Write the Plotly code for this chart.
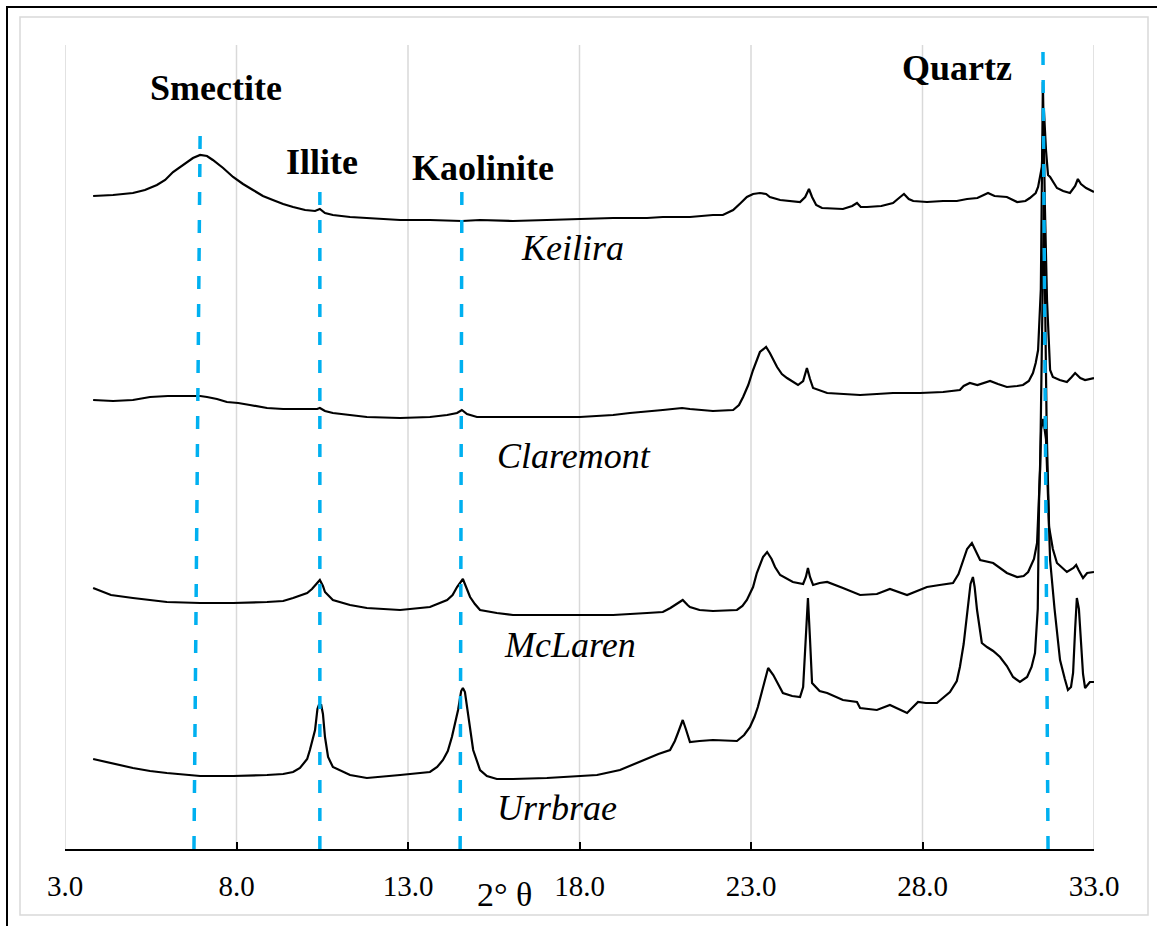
import plotly.graph_objects as go

# ---------------- data (2-theta in degrees, intensity in arbitrary units incl. stacking offset) -------------
keilira_2theta = [3.82, 4.40, 4.98, 5.33, 5.68, 5.92, 6.15, 6.35, 6.56, 6.73, 6.94, 7.14, 7.31, 7.61, 7.90,
                  8.19, 8.48, 8.77, 9.06, 9.36, 9.65, 10.00, 10.29, 10.43, 10.58, 10.81, 11.31, 11.80,
                  12.77, 13.64, 14.57, 15.10, 16.06, 17.05, 18.01, 18.98, 19.97, 20.43, 21.22, 21.89,
                  22.18, 22.48, 22.70, 22.88, 23.06, 23.26, 23.44, 23.55, 23.85, 24.22, 24.43, 24.58,
                  24.69, 24.78, 24.90, 25.07, 25.68, 25.95, 26.09, 26.20, 26.38, 26.80, 27.14, 27.35,
                  27.46, 27.60, 27.73, 28.13, 28.60, 29.00, 29.30, 29.60, 29.91, 30.10, 30.46, 30.76,
                  31.00, 31.13, 31.30, 31.37, 31.48, 31.54, 31.60, 31.66, 31.72, 31.92, 32.10, 32.30,
                  32.45, 32.53, 32.62, 32.77, 33.00]
keilira_int = [653, 654, 656, 659, 664, 669, 677, 682, 687, 691, 694, 693, 689, 681, 672,
               665, 659, 653, 649, 645, 642, 639, 638, 640, 636, 634, 632, 631,
               629, 629, 628, 629, 628, 629, 630, 631, 631, 632, 632, 634,
               634, 639, 646, 652, 655, 656, 655, 652, 649, 648, 647, 652,
               660, 652, 644, 641, 640, 643, 646, 642, 642, 643, 646, 652,
               655, 650, 648, 647, 648, 648, 650, 651, 656, 653, 652, 647,
               648, 651, 656, 662, 682, 739, 699, 674, 672, 661, 658, 656,
               663, 670, 665, 661, 657]

claremont_2theta = [3.82, 4.40, 4.98, 5.48, 6.00, 6.44, 6.94, 7.14, 7.43, 7.72, 8.05, 8.39, 8.89, 9.36,
                    9.85, 10.35, 10.43, 10.58, 10.81, 11.31, 11.80, 12.77, 13.64, 14.14, 14.43, 14.57,
                    14.72, 15.01, 16.06, 17.05, 18.01, 18.98, 19.47, 20.43, 20.99, 21.22, 21.89, 22.48,
                    22.65, 22.77, 22.92, 23.06, 23.17, 23.26, 23.44, 23.55, 23.76, 23.90, 24.05, 24.37,
                    24.52, 24.63, 24.72, 24.81, 25.22, 25.68, 26.18, 26.67, 27.14, 27.55, 27.93, 28.60,
                    29.09, 29.20, 29.38, 29.60, 29.97, 30.20, 30.46, 30.76, 30.93, 31.10, 31.22, 31.30,
                    31.37, 31.45, 31.51, 31.57, 31.63, 31.72, 31.80, 32.00, 32.21, 32.35, 32.45, 32.60,
                    32.74, 33.00]
claremont_int = [449, 448, 449, 452, 453, 453, 453, 452, 450, 447, 446, 444, 441, 440,
                 440, 440, 441, 438, 436, 434, 432, 431, 432, 434, 436, 439,
                 435, 432, 432, 432, 432, 434, 436, 439, 441, 440, 438, 439,
                 444, 452, 464, 479, 490, 497, 502, 496, 482, 475, 471, 464,
                 468, 481, 470, 461, 456, 455, 454, 455, 456, 456, 456, 457,
                 459, 463, 466, 464, 468, 465, 462, 463, 464, 468, 476, 486,
                 499, 560, 767, 640, 549, 479, 472, 469, 467, 472, 476, 471,
                 469, 471]

mclaren_2theta = [3.82, 4.10, 4.34, 4.98, 5.48, 5.97, 6.94, 7.90, 8.89, 9.36, 9.65, 10.06, 10.20, 10.29,
                  10.43, 10.52, 10.58, 10.81, 11.31, 11.80, 12.77, 13.64, 14.14, 14.30, 14.43, 14.60,
                  14.70, 14.81, 14.95, 15.10, 15.59, 16.06, 17.05, 18.01, 18.98, 19.97, 20.43, 20.65,
                  20.78, 21.01, 21.15, 21.22, 21.50, 21.89, 22.59, 22.75, 22.88, 23.06, 23.17, 23.35,
                  23.47, 23.60, 23.70, 23.85, 24.22, 24.52, 24.60, 24.66, 24.72, 24.81, 25.00, 25.22,
                  25.68, 26.18, 26.67, 27.05, 27.55, 28.13, 28.50, 28.89, 29.05, 29.18, 29.30, 29.44,
                  29.55, 29.68, 30.06, 30.30, 30.46, 30.76, 30.95, 31.08, 31.25, 31.34, 31.43, 31.54,
                  31.62, 31.69, 31.80, 31.92, 32.21, 32.40, 32.48, 32.55, 32.68, 32.80, 33.00]
mclaren_int = [261, 257, 254, 251, 249, 247, 246, 246, 247, 248, 251, 256, 260, 264,
               269, 263, 257, 249, 244, 241, 239, 242, 249, 254, 262, 270,
               262, 252, 245, 239, 236, 234, 234, 234, 234, 236, 237, 241,
               244, 249, 244, 242, 239, 238, 239, 243, 249, 262, 276, 292,
               297, 290, 282, 274, 267, 265, 272, 281, 272, 264, 266, 267,
               261, 254, 255, 260, 254, 262, 264, 266, 275, 289, 300, 306,
               298, 289, 286, 280, 276, 272, 273, 277, 290, 306, 380, 650,
               420, 322, 300, 286, 277, 281, 284, 279, 271, 276, 277]

urrbrae_2theta = [3.82, 4.34, 4.98, 5.48, 5.97, 6.94, 7.90, 8.89, 9.36, 9.65, 9.85, 10.06, 10.14, 10.29,
                  10.36, 10.40, 10.47, 10.52, 10.58, 10.67, 10.81, 11.31, 11.80, 12.77, 13.64, 13.85,
                  14.02, 14.16, 14.28, 14.40, 14.46, 14.55, 14.60, 14.66, 14.72, 14.81, 14.90, 15.10,
                  15.30, 15.59, 16.06, 17.05, 18.01, 18.51, 19.18, 19.60, 19.97, 20.30, 20.64, 20.78,
                  20.87, 21.01, 21.10, 21.22, 21.50, 21.89, 22.59, 22.80, 22.97, 23.10, 23.20, 23.35,
                  23.50, 23.65, 23.85, 23.93, 24.20, 24.43, 24.52, 24.58, 24.66, 24.72, 24.78, 25.00,
                  25.22, 25.68, 26.09, 26.18, 26.40, 26.67, 27.05, 27.30, 27.55, 27.87, 28.10, 28.42,
                  28.80, 29.00, 29.09, 29.20, 29.30, 29.40, 29.47, 29.52, 29.59, 29.66, 29.73, 29.88,
                  30.06, 30.26, 30.46, 30.64, 30.84, 31.05, 31.18, 31.28, 31.36, 31.40, 31.46, 31.52,
                  31.60, 31.66, 31.72, 31.85, 32.01, 32.15, 32.24, 32.33, 32.39, 32.45, 32.50, 32.56,
                  32.62, 32.68, 32.74, 32.88, 33.00]
urrbrae_int = [90, 86, 81, 78, 76, 73, 73, 74, 75, 77, 81, 90, 99, 119,
               140, 144, 144, 135, 112, 92, 82, 74, 71, 74, 77, 82,
               89, 98, 112, 130, 139, 158, 161, 157, 142, 118, 99, 79,
               73, 70, 70, 71, 73, 74, 79, 85, 91, 95, 99, 108,
               116, 129, 120, 107, 108, 109, 108, 114, 122, 132, 142, 162,
               181, 174, 162, 156, 153, 152, 162, 200, 251, 210, 166, 158,
               156, 149, 147, 141, 140, 139, 144, 140, 136, 147, 146, 146,
               157, 168, 182, 205, 236, 265, 272, 262, 239, 222, 206, 202,
               198, 192, 183, 172, 167, 172, 182, 196, 240, 352, 420, 430,
               410, 352, 289, 240, 189, 170, 159, 162, 176, 220, 251, 240,
               202, 175, 161, 167, 167]

sample_names = ["Keilira", "Claremont", "McLaren", "Urrbrae"]
sample_label_2theta = [17.81, 17.84, 17.72, 17.34]
sample_label_int = [601, 393, 204, 41]

mineral_names = ["Smectite", "Illite", "Kaolinite", "Quartz"]
mineral_label_2theta = [7.40, 10.49, 15.19, 29.00]
mineral_label_int = [761, 687, 681, 781]
mineral_line_top_2theta = [6.94, 10.43, 14.57, 31.51]
mineral_line_bottom_2theta = [6.76, 10.43, 14.52, 31.66]
mineral_line_top_int = [716, 664, 659, 811]

tick_vals = [3.0, 8.0, 13.0, 18.0, 23.0, 28.0, 33.0]
x_title = "2° θ"

# ---------------- figure ----------------
W, H = 1157, 926
ML, MT = 65, 36
PW, PH = 1029, 813
YMAX = 813
SERIF = "Liberation Serif"

fig = go.Figure()
series = [(keilira_2theta, keilira_int), (claremont_2theta, claremont_int),
          (mclaren_2theta, mclaren_int), (urrbrae_2theta, urrbrae_int)]
for name, (xs, ys) in zip(sample_names, series):
    fig.add_trace(go.Scatter(x=xs, y=ys, mode="lines", name=name, showlegend=False,
                             line=dict(color="black", width=2.2)))

shapes = []
# vertical gridlines (stop below top of plot area, like the original)
for t in tick_vals:
    shapes.append(dict(type="line", xref="x", yref="y", x0=t, x1=t, y0=0, y1=804,
                       line=dict(color="#D9D9D9", width=1.5), layer="below"))
# mineral reference lines
for xt, xb, yt in zip(mineral_line_top_2theta, mineral_line_bottom_2theta, mineral_line_top_int):
    shapes.append(dict(type="line", xref="x", yref="y", x0=xb, x1=xt, y0=0, y1=yt,
                       line=dict(color="#00B0F0", width=3.5, dash="13px,15px"), layer="above"))


def px_to_paper_x(px):
    return (px - ML) / PW


def py_to_paper_y(py):
    return (MT + PH - py) / PH


# outer frames
shapes.append(dict(type="rect", xref="paper", yref="paper",
                   x0=px_to_paper_x(20), x1=px_to_paper_x(1148),
                   y0=py_to_paper_y(915), y1=py_to_paper_y(17),
                   line=dict(color="#D9D9D9", width=1.5), layer="below"))
shapes.append(dict(type="rect", xref="paper", yref="paper",
                   x0=px_to_paper_x(7), x1=px_to_paper_x(1170),
                   y0=py_to_paper_y(940), y1=py_to_paper_y(7),
                   line=dict(color="black", width=2), layer="below"))

annotations = []
for n, x, y in zip(mineral_names, mineral_label_2theta, mineral_label_int):
    annotations.append(dict(x=x, y=y, xref="x", yref="y", text="<b>%s</b>" % n, showarrow=False,
                            xanchor="center", yanchor="middle",
                            font=dict(family=SERIF, size=36, color="black")))
for n, x, y in zip(sample_names, sample_label_2theta, sample_label_int):
    annotations.append(dict(x=x, y=y, xref="x", yref="y", text="<i>%s</i>" % n, showarrow=False,
                            xanchor="center", yanchor="middle",
                            font=dict(family=SERIF, size=36, color="black")))
annotations.append(dict(x=15.80, y=py_to_paper_y(895), xref="x", yref="paper", text=x_title,
                        showarrow=False, xanchor="center", yanchor="middle",
                        font=dict(family=SERIF, size=34, color="black")))

fig.update_layout(
    width=W, height=H,
    margin=dict(l=ML, r=W - ML - PW, t=MT, b=H - MT - PH, pad=0),
    paper_bgcolor="white", plot_bgcolor="white",
    shapes=shapes, annotations=annotations,
    xaxis=dict(range=[3, 33], tickvals=tick_vals, tickformat=".1f", showgrid=False, zeroline=False,
               showline=True, linecolor="black", linewidth=2,
               ticks="inside", ticklen=7, tickwidth=2, tickcolor="black",
               tickfont=dict(family=SERIF, size=29, color="black"),
               ticklabelstandoff=10),
    yaxis=dict(range=[0, YMAX], visible=False),
)

fig.write_html("out.html", config={"displayModeBar": False, "responsive": False})
